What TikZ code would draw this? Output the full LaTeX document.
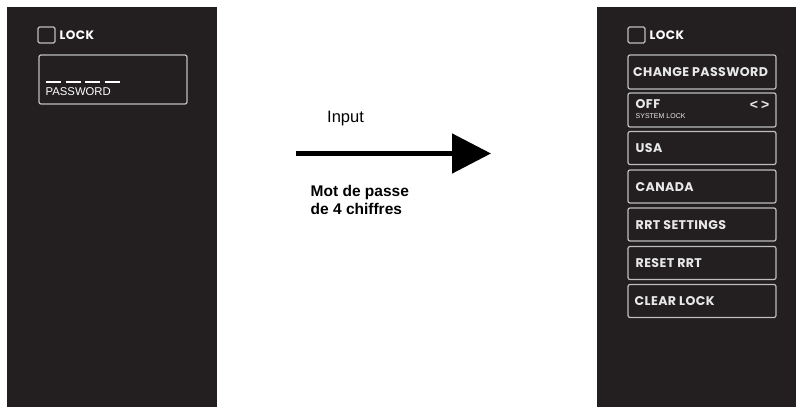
\documentclass[tikz,border=0pt]{standalone}
\usepackage{fontspec}
\setmainfont{Liberation Sans}
\newfontfamily\gfont[LetterSpace=3]{Poppins}
\usetikzlibrary{arrows.meta}
\definecolor{panel}{HTML}{231F20}
\definecolor{boxline}{HTML}{BEBEBE}
\definecolor{boxtext}{HTML}{E8E8E8}
\tikzset{
  panelbg/.style={fill=panel, draw=none},
  chk/.style={draw=boxline, line width=1.2pt, rounded corners=1.5pt},
  menubox/.style={draw=boxline, line width=1.2pt, rounded corners=2pt},
  menutext/.style={anchor=west, inner sep=0pt, text=boxtext, font=\gfont\bfseries\fontsize{12.6}{13}\selectfont},
  locktext/.style={anchor=west, inner sep=0pt, text=white, font=\gfont\bfseries\fontsize{12.2}{13}\selectfont},
  lbl/.style={anchor=west, inner sep=0pt, text=black},
}
\begin{document}
\begin{tikzpicture}[x=1pt,y=-1pt]
\useasboundingbox (0,0) rectangle (796,407);
\fill[white] (0,0) rectangle (796,407);
% panels
\path[panelbg] (7,7) rectangle (217,407);
\path[panelbg] (597,7) rectangle (796,407);

% left panel
\node[chk, minimum width=17pt, minimum height=16pt, inner sep=0pt] (lchk) at (46.5,35) {};
\node[locktext] (llock) at (59.5,35.5) {LOCK};
\node[menubox, minimum width=148pt, minimum height=49pt, inner sep=0pt] (pwbox) at (113,79.5) {};
\foreach \i in {0,1,2,3} {
  \draw[white, line width=1.8pt] (46+\i*19.5,82) -- (61+\i*19.5,82);
}
\node[lbl, text=white, font=\fontsize{11.3}{12}\selectfont] (pwtext) at (45.5,92) {PASSWORD};

% arrow
\coordinate (astart) at (296,153.5);
\coordinate (aend) at (491,153.5);
\draw[line width=5pt, -{Triangle[length=39pt,width=39pt]}] (astart) -- (aend);
\node[lbl, font=\fontsize{16.5}{18}\selectfont] (input) at (327,118.5) {Input};
\node[lbl, anchor=north west, align=left, font=\bfseries\fontsize{15.5}{18}\selectfont] (mdp) at (310.5,185.5) {Mot de passe\\de 4 chiffres};

% right panel
\node[chk, minimum width=17pt, minimum height=16pt, inner sep=0pt] (rchk) at (636.5,35) {};
\node[locktext] (rlock) at (649.5,35.5) {LOCK};

\node[menubox, minimum width=148pt, minimum height=34pt, inner sep=0pt] (b1) at (702,72) {};
\node[menutext] (t1) at (633,72.5) {CHANGE PASSWORD};

\node[menubox, minimum width=148pt, minimum height=34pt, inner sep=0pt] (b2) at (702,110) {};
\node[menutext] (t2) at (635.5,104) {OFF};
\node[lbl, text=boxtext, font=\fontsize{7}{8}\selectfont] (t2s) at (635.5,116.5) {SYSTEM LOCK};
\node[lbl, anchor=east, text=boxtext, font=\bfseries\fontsize{14}{14}\selectfont] (t2a) at (769.5,105.5) {<\hspace{3pt}>};

\node[menubox, minimum width=148pt, minimum height=33pt, inner sep=0pt] (b3) at (702,148) {};
\node[menutext] (t3) at (635.5,148.5) {USA};

\node[menubox, minimum width=148pt, minimum height=33pt, inner sep=0pt] (b4) at (702,186.5) {};
\node[menutext] (t4) at (635.5,187) {CANADA};

\node[menubox, minimum width=148pt, minimum height=33pt, inner sep=0pt] (b5) at (702,224.5) {};
\node[menutext] (t5) at (635.5,225) {RRT SETTINGS};

\node[menubox, minimum width=148pt, minimum height=33pt, inner sep=0pt] (b6) at (702,263) {};
\node[menutext] (t6) at (635.5,263.5) {RESET RRT};

\node[menubox, minimum width=148pt, minimum height=33pt, inner sep=0pt] (b7) at (702,301) {};
\node[menutext] (t7) at (634.5,301.5) {CLEAR LOCK};
\end{tikzpicture}
\end{document}
